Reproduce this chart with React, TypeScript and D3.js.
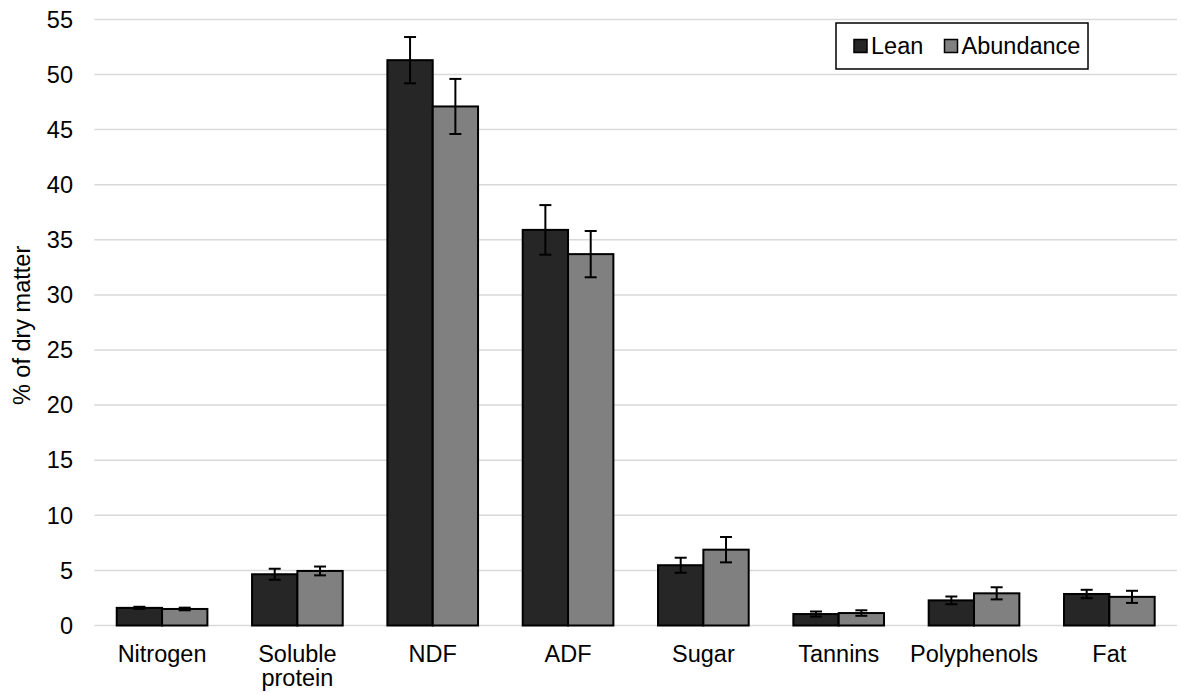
import React from "react";
import * as d3 from "d3";

// Nutrient composition of forage, two seasons
const categories: string[][] = [
  ["Nitrogen"],
  ["Soluble", "protein"],
  ["NDF"],
  ["ADF"],
  ["Sugar"],
  ["Tannins"],
  ["Polyphenols"],
  ["Fat"],
];
const seriesNames = ["Lean", "Abundance"];
const leanValues = [1.6, 4.65, 51.3, 35.9, 5.47, 1.04, 2.28, 2.86];
const leanErrors = [0.1, 0.5, 2.1, 2.25, 0.68, 0.23, 0.35, 0.38];
const abundanceValues = [1.5, 4.95, 47.1, 33.7, 6.88, 1.13, 2.92, 2.6];
const abundanceErrors = [0.12, 0.4, 2.5, 2.1, 1.15, 0.25, 0.55, 0.55];
const yTicks = [0, 5, 10, 15, 20, 25, 30, 35, 40, 45, 50, 55];
const seriesColors = ["#262626", "#808080"];

const W = 1181;
const H = 695;
const FONT = "'Liberation Sans', Arial, sans-serif";

export default function App() {
  const x0 = d3
    .scaleBand<number>()
    .domain(d3.range(categories.length))
    .range([94.4, 1177])
    .paddingInner(0.33)
    .paddingOuter(0.165);
  const x1 = d3
    .scaleBand<number>()
    .domain([0, 1])
    .range([0, x0.bandwidth()]);
  const y = d3.scaleLinear().domain([0, 55]).range([625.5, 19.4]);

  const series = [
    { values: leanValues, errors: leanErrors },
    { values: abundanceValues, errors: abundanceErrors },
  ];
  const capHalf = 6;

  return (
    <svg
      width={W}
      height={H}
      style={{ position: "absolute", left: 0, top: 0, background: "#fff" }}
      fontFamily={FONT}
    >
      {/* gridlines */}
      {yTicks.map((t) => (
        <line
          key={"g" + t}
          x1={94.4}
          x2={1177}
          y1={y(t)}
          y2={y(t)}
          stroke="#d9d9d9"
          strokeWidth={1.5}
        />
      ))}
      {/* y tick labels */}
      {yTicks.map((t) => (
        <text
          key={"t" + t}
          x={73}
          y={y(t)}
          dy="0.35em"
          textAnchor="end"
          fontSize={23.5}
          fill="#000"
        >
          {t}
        </text>
      ))}
      {/* y axis title */}
      <text
        transform={`translate(30, ${y(27.5) + 3}) rotate(-90)`}
        textAnchor="middle"
        fontSize={23.5}
        fill="#000"
      >
        % of dry matter
      </text>
      {/* bars */}
      {series.map((s, si) =>
        s.values.map((v, i) => {
          const bx = (x0(i) as number) + (x1(si) as number);
          return (
            <rect
              key={`b${si}-${i}`}
              x={bx}
              y={y(v)}
              width={x1.bandwidth()}
              height={y(0) - y(v)}
              fill={seriesColors[si]}
              stroke="#000"
              strokeWidth={2}
            />
          );
        })
      )}
      {/* error bars */}
      {series.map((s, si) =>
        s.values.map((v, i) => {
          const cx = (x0(i) as number) + (x1(si) as number) + x1.bandwidth() / 2;
          const hi = y(v + s.errors[i]);
          const lo = y(v - s.errors[i]);
          return (
            <g key={`e${si}-${i}`} stroke="#000" strokeWidth={2}>
              <line x1={cx} x2={cx} y1={hi} y2={lo} />
              <line x1={cx - capHalf} x2={cx + capHalf} y1={hi} y2={hi} />
              <line x1={cx - capHalf} x2={cx + capHalf} y1={lo} y2={lo} />
            </g>
          );
        })
      )}
      {/* category labels */}
      {categories.map((lines, i) => (
        <text
          key={"c" + i}
          x={(x0(i) as number) + x0.bandwidth() / 2}
          y={662}
          textAnchor="middle"
          fontSize={23.5}
          fill="#000"
        >
          {lines.map((ln, k) => (
            <tspan
              key={k}
              x={(x0(i) as number) + x0.bandwidth() / 2}
              dy={k === 0 ? 0 : 24}
            >
              {ln}
            </tspan>
          ))}
        </text>
      ))}
      {/* legend */}
      <g>
        <rect x={836} y={23} width={252} height={46} fill="#fff" stroke="#000" strokeWidth={1.5} />
        {seriesNames.map((name, si) => {
          const sx = si === 0 ? 854 : 944.5;
          return (
            <g key={"l" + si}>
              <rect
                x={sx}
                y={39.5}
                width={13}
                height={13}
                fill={seriesColors[si]}
                stroke="#000"
                strokeWidth={1.5}
              />
              <text x={sx + 17} y={54} fontSize={23.5} fill="#000">
                {name}
              </text>
            </g>
          );
        })}
      </g>
    </svg>
  );
}
